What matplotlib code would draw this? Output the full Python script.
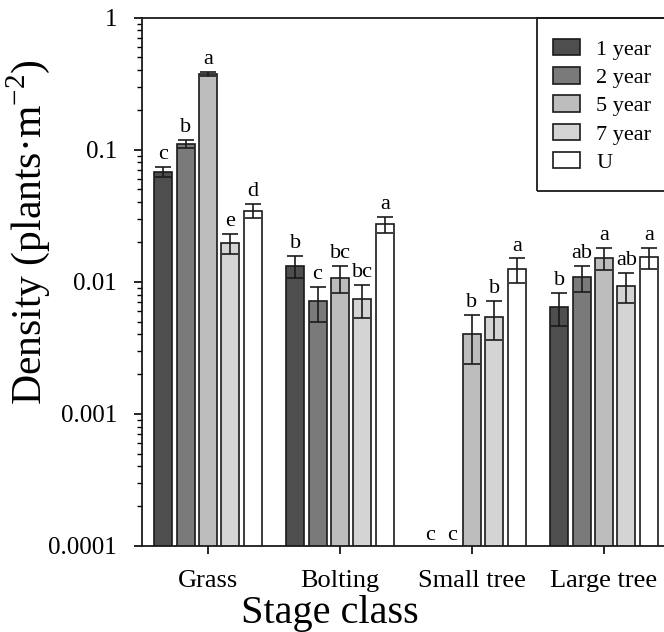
import numpy as np
import matplotlib
matplotlib.use("Agg")
import matplotlib.pyplot as plt
from matplotlib.patches import Rectangle, Patch
from matplotlib.ticker import LogLocator, NullFormatter

plt.rcParams['font.family'] = ['Liberation Serif', 'DejaVu Serif']
plt.rcParams['mathtext.fontset'] = 'custom'
plt.rcParams['mathtext.rm'] = 'Liberation Serif'

# ---- data ----
stages = ['Grass', 'Bolting', 'Small tree', 'Large tree']
series = ['1 year', '2 year', '5 year', '7 year', 'U']
colors = ['#4e4e4e', '#7a7a7a', '#bdbdbd', '#d4d4d4', '#ffffff']

d_1yr = [0.068, 0.0131, np.nan, 0.0064]
d_2yr = [0.111, 0.0071, np.nan, 0.0108]
d_5yr = [0.373, 0.0107, 0.0040, 0.0152]
d_7yr = [0.0195, 0.0074, 0.0054, 0.0093]
d_U   = [0.0345, 0.0272, 0.0124, 0.0153]

e_1yr = [0.006, 0.0025, np.nan, 0.0018]
e_2yr = [0.008, 0.0021, np.nan, 0.0024]
e_5yr = [0.015, 0.0025, 0.0016, 0.0029]
e_7yr = [0.0034, 0.0021, 0.0018, 0.0024]
e_U   = [0.0043, 0.0039, 0.0026, 0.0028]

l_1yr = ['c', 'b', 'c', 'b']
l_2yr = ['b', 'c', 'c', 'ab']
l_5yr = ['a', 'bc', 'b', 'a']
l_7yr = ['e', 'bc', 'b', 'ab']
l_U   = ['d', 'a', 'a', 'a']

yticks = [1e-4, 1e-3, 1e-2, 1e-1, 1]
yticklabels = ['0.0001', '0.001', '0.01', '0.1', '1']

values = [d_1yr, d_2yr, d_5yr, d_7yr, d_U]
errors = [e_1yr, e_2yr, e_5yr, e_7yr, e_U]
letters = [l_1yr, l_2yr, l_5yr, l_7yr, l_U]

fig = plt.figure(figsize=(6.64, 6.32), dpi=100)
ax = fig.add_axes([142/664, 1-546/632, (670-142)/664, (546-17.5)/632])

x = np.arange(len(stages))
slot = 0.17
width = 0.137
for i, (vals, errs, labs, c) in enumerate(zip(values, errors, letters, colors)):
    xi = x + (i - 2) * slot
    v = np.array(vals, dtype=float)
    e = np.array(errs, dtype=float)
    ax.bar(xi, v, width, color=c, edgecolor='#1a1a1a', linewidth=1.2, zorder=2)
    ax.errorbar(xi, v, yerr=e, fmt='none', ecolor='#1a1a1a', elinewidth=1.2,
                capsize=6, capthick=1.2, zorder=3)
    for xx, vv, ee, lab in zip(xi, v, e, labs):
        if np.isnan(vv):
            ax.annotate(lab, (xx, 1e-4), xytext=(2, 1), textcoords='offset points',
                        ha='center', va='bottom', fontsize=16)
        else:
            ax.annotate(lab, (xx, vv + ee), xytext=(0, 2), textcoords='offset points',
                        ha='center', va='bottom', fontsize=16)

ax.set_yscale('log')
ax.set_ylim(1e-4, 1)
ax.set_xlim(-0.5, 3.5)
ax.set_yticks(yticks, yticklabels)
ax.yaxis.set_minor_locator(LogLocator(base=10, subs=np.arange(2, 10)))
ax.yaxis.set_minor_formatter(NullFormatter())
ax.set_xticks(x, stages)
ax.tick_params(axis='y', which='major', direction='out', length=6, width=1.2, labelsize=18, pad=12)
ax.tick_params(axis='y', which='minor', direction='out', length=3.5, width=1.0)
ax.tick_params(axis='x', which='major', direction='out', length=6, width=1.2, labelsize=19, pad=11)
for s in ax.spines.values():
    s.set_linewidth(1.3)
    s.set_color('#1a1a1a')

ax.set_xlabel('Stage class', fontsize=29)
ax.xaxis.set_label_coords(0.356, -0.093)
ax.set_ylabel('Density (plants·m$^{\\mathregular{-2}}$)', fontsize=30)
ax.yaxis.set_label_coords(-0.170, 0.594)

# legend
handles = [Patch(facecolor=c, edgecolor='#1a1a1a', linewidth=1.2) for c in colors]
leg = fig.legend(handles, series, loc='upper left',
                 bbox_to_anchor=(553/664, 1-39/632), bbox_transform=fig.transFigure,
                 frameon=False, fontsize=16, borderpad=0, borderaxespad=0,
                 handlelength=1.2, handleheight=0.75, handletextpad=0.75,
                 labelspacing=0.33)
fig.add_artist(Rectangle((537/664, 1-191/632), 0.3, (191-17.5)/632,
                         transform=fig.transFigure, fill=False,
                         edgecolor='#1a1a1a', linewidth=1.3, clip_on=False))

fig.savefig('out.png', dpi=100)
